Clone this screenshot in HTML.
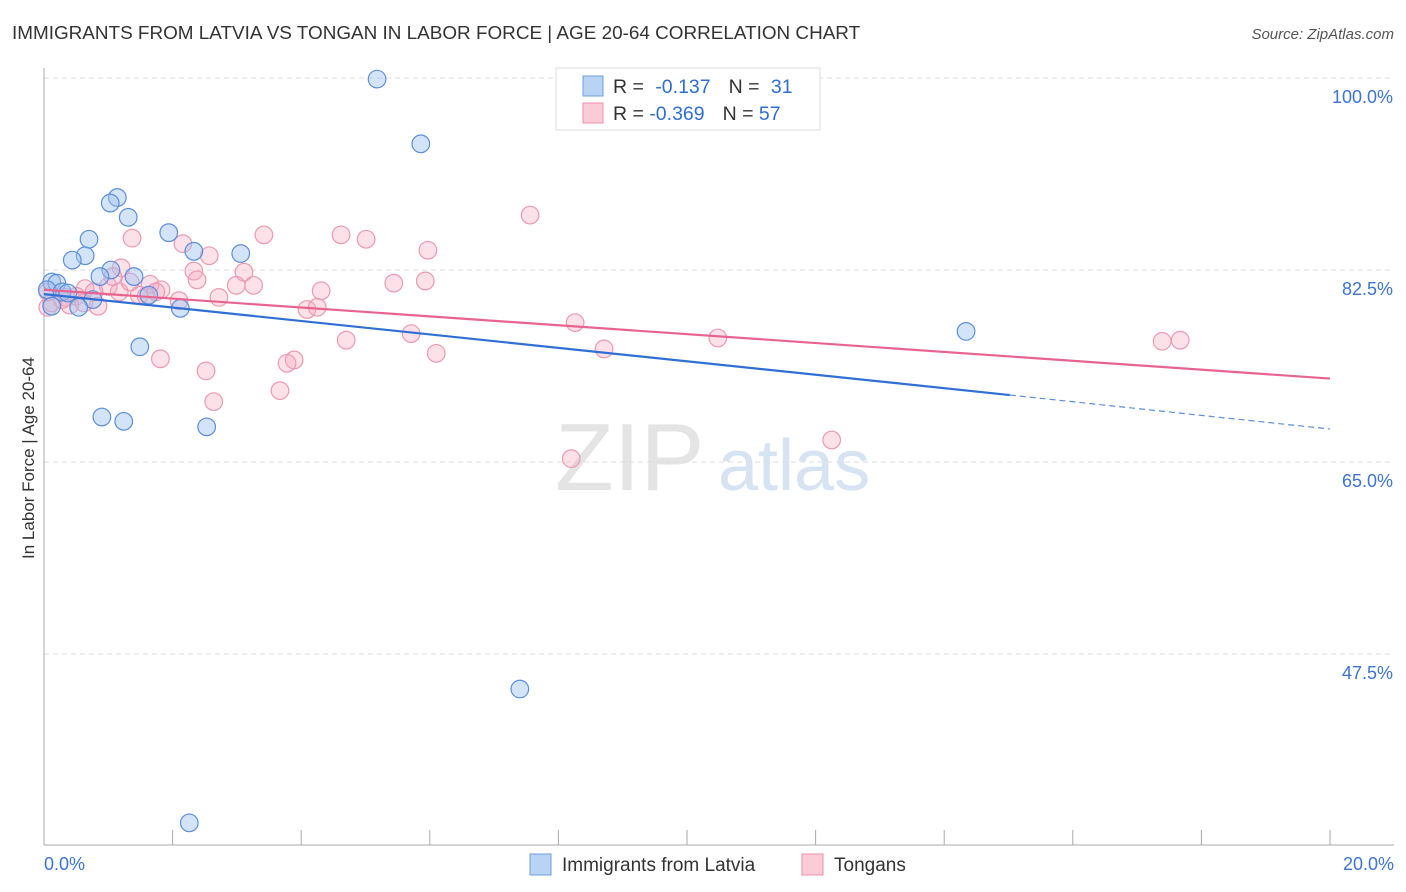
<!DOCTYPE html>
<html><head><meta charset="utf-8"><style>
html,body{margin:0;background:#fff;font-family:"Liberation Sans",sans-serif;overflow:hidden;width:1406px;height:892px;}
svg{display:block;}
svg text{font-family:"Liberation Sans",sans-serif;}
</style></head><body>
<svg id="c" width="1406" height="892">
<text x="12" y="39" font-size="18.9" fill="#333">IMMIGRANTS FROM LATVIA VS TONGAN IN LABOR FORCE | AGE 20-64 CORRELATION CHART</text>
<text x="1394" y="39" font-size="15" fill="#555" text-anchor="end" font-style="italic">Source: ZipAtlas.com</text>
<text transform="translate(34,458) rotate(-90)" font-size="17" fill="#333" text-anchor="middle">In Labor Force | Age 20-64</text>
<text x="555" y="490" font-size="96" fill="#e4e4e4" font-family="Liberation Serif">ZIP</text>
<text x="718" y="490" font-size="72" fill="#d6e3f3">atlas</text>
<g id="grid"></g><g id="marks"></g>
<g>
<rect x="556" y="68" width="264" height="62" fill="#fff" stroke="#ddd"/>
<rect x="583" y="76" width="20" height="20" fill="#b9d3f5" stroke="#6f9de0"/>
<rect x="583" y="103" width="20" height="20" fill="#fbcbd8" stroke="#ec8fab"/>
<text x="613" y="93" font-size="19.5" fill="#333">R = <tspan fill="#2f6fd1" dx="6">-0.137</tspan><tspan dx="18" fill="#333">N = </tspan><tspan fill="#2f6fd1" dx="6">31</tspan></text>
<text x="613" y="120" font-size="19.5" fill="#333">R = <tspan fill="#2f6fd1">-0.369</tspan><tspan dx="18" fill="#333">N = </tspan><tspan fill="#2f6fd1">57</tspan></text>
</g>
<g>
<rect x="530" y="854" width="21" height="21" fill="#b9d3f5" stroke="#6f9de0"/>
<text x="562" y="871" font-size="19" fill="#333">Immigrants from Latvia</text>
<rect x="802" y="854" width="21" height="21" fill="#fbcbd8" stroke="#ec8fab"/>
<text x="834" y="871" font-size="19" fill="#333">Tongans</text>
</g>
</svg>
<script>
const yTicks=[100,82.5,65,47.5];
const xTickLabels=["0.0%","20.0%"];
const latviaX=[5.18,5.86,1.14,1.03,1.31,1.94,0.70,2.33,3.06,0.64,0.44,0.12,0.20,1.04,1.40,0.87,0.05,0.28,0.37,1.63,0.76,2.12,0.54,0.12,1.49,0.90,1.24,2.53,14.34,7.40,2.26];
const latviaY=[99.9,94.0,89.1,88.6,87.3,85.9,85.3,84.2,84.0,83.8,83.4,81.4,81.3,82.5,81.9,81.9,80.7,80.5,80.4,80.2,79.8,79.0,79.1,79.2,75.5,69.1,68.7,68.2,76.9,44.3,32.1];
const tonganX=[7.56,4.62,5.01,3.42,1.37,2.16,5.97,2.57,1.20,2.33,3.11,2.38,3.26,2.99,5.44,5.93,4.31,1.65,1.82,1.00,0.64,0.78,1.17,1.48,2.10,2.72,1.59,0.50,0.28,0.84,4.09,4.25,8.26,5.71,4.70,10.48,17.39,17.67,8.71,6.10,1.81,3.89,3.78,2.52,3.67,2.64,12.25,8.20,0.06,0.12,0.34,0.40,1.07,1.34,1.74,0.06,0.62];
const tonganY=[87.5,85.7,85.3,85.7,85.4,84.9,84.3,83.8,82.7,82.4,82.3,81.6,81.1,81.1,81.3,81.5,80.6,81.2,80.7,81.0,80.8,80.5,80.5,80.2,79.7,80.0,80.1,80.1,79.8,79.2,78.9,79.1,77.7,76.7,76.1,76.3,76.0,76.1,75.3,74.9,74.4,74.3,74.0,73.3,71.5,70.5,67.0,65.3,79.1,79.5,80.0,79.3,81.9,81.4,80.5,80.5,79.5];
const blueLine=[[0,80.3],[15.02,71.1]], blueDash=[[15.02,71.1],[20,68.0]];
const pinkLine=[[0,80.7],[20,72.6]];
const NS="http://www.w3.org/2000/svg";
const X=v=>44+v*64.3, Y=v=>78+(100-v)*10.97;
const g=document.getElementById('grid'), m=document.getElementById('marks');
function el(t,a,p){const e=document.createElementNS(NS,t);for(const k in a)e.setAttribute(k,a[k]);p.appendChild(e);return e;}
yTicks.forEach(t=>{
 const l=el('line',{x1:44,x2:1394,y1:Y(t),y2:Y(t),stroke:'#ddd','stroke-dasharray':'5,4'},g);
 
 
 const tx=el('text',{x:1393,y:Y(t)+25,'font-size':18,fill:'#3d74d1','text-anchor':'end'},g);tx.textContent=t.toFixed(1)+'%';
 
 
});
let a=el('line',{x1:44,x2:44,y1:68,y2:845,stroke:'#aaa'},g);


a=el('line',{x1:44,x2:1394,y1:845,y2:845,stroke:'#aaa'},g);


for(let i=0;i<=20;i+=2){const t=el('line',{x1:X(i),x2:X(i),y1:830,y2:845,stroke:'#aaa'},g);
 
 }
[[0,44,'start'],[1,1394,'end']].forEach(([i,x,an])=>{const t=el('text',{x:x,y:870,'font-size':18,fill:'#3d74d1','text-anchor':an},g);t.textContent=xTickLabels[i];
 
 });
tonganX.forEach((x,i)=>{const c=el('circle',{cx:X(x),cy:Y(tonganY[i]),r:8.8,fill:'rgba(246,170,192,0.35)',stroke:'#eb9ab2','stroke-width':1.2},m);
 
 });
latviaX.forEach((x,i)=>{const c=el('circle',{cx:X(x),cy:Y(latviaY[i]),r:8.8,fill:'rgba(160,195,240,0.45)',stroke:'#5b8fdc','stroke-width':1.2},m);
 
 });
let L=el('line',{x1:X(pinkLine[0][0]),y1:Y(pinkLine[0][1]),x2:X(pinkLine[1][0]),y2:Y(pinkLine[1][1]),stroke:'#e8648f','stroke-width':2.2},m);


L=el('line',{x1:X(blueLine[0][0]),y1:Y(blueLine[0][1]),x2:X(blueLine[1][0]),y2:Y(blueLine[1][1]),stroke:'#2f6fd6','stroke-width':2.2},m);


L=el('line',{x1:X(blueDash[0][0]),y1:Y(blueDash[0][1]),x2:X(blueDash[1][0]),y2:Y(blueDash[1][1]),stroke:'#5b8fdc','stroke-width':1.2,'stroke-dasharray':'6,4'},m);


</script>
</body></html>
